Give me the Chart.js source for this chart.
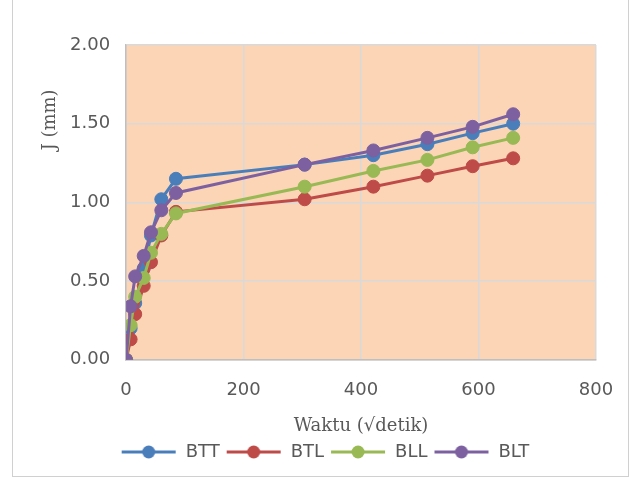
<!DOCTYPE html>
<html>
<head>
<meta charset="utf-8">
<script src="https://cdn.jsdelivr.net/npm/chart.js@4/dist/chart.umd.min.js"></script>
<style>
  html, body { margin: 0; padding: 0; background: #ffffff; }
  #wrap { position: relative; width: 640px; height: 486px; }
  #frame { position: absolute; left: 12px; top: -2px; width: 617px; height: 479px; border: 1px solid #D0D0D0; box-sizing: border-box; pointer-events: none; }
  canvas { position: absolute; left: 0; top: 0; }
</style>
</head>
<body>
<div id="wrap">
  <canvas id="c" width="640" height="486"></canvas>
  <div id="frame"></div>
</div>
<script>
// Time axis (√detik) shared by all series
const waktu = [0, 7.7, 15.5, 30, 42.4, 60, 84.9, 304, 421, 513, 590, 659];
// Series values (mm)
const BTT = [0, 0.20, 0.36, 0.58, 0.79, 1.02, 1.15, 1.24, 1.30, 1.37, 1.44, 1.50];
const BTL = [0, 0.13, 0.29, 0.47, 0.62, 0.79, 0.94, 1.02, 1.10, 1.17, 1.23, 1.28];
const BLL = [0, 0.22, 0.40, 0.52, 0.68, 0.80, 0.93, 1.10, 1.20, 1.27, 1.35, 1.41];
const BLT = [0, 0.34, 0.53, 0.66, 0.81, 0.95, 1.06, 1.24, 1.33, 1.41, 1.48, 1.56];
const seriesNames = ['BTT', 'BTL', 'BLL', 'BLT'];
const seriesValues = [BTT, BTL, BLL, BLT];
const seriesColors = ['#4A7EBB', '#BE4B48', '#98B954', '#7D60A0'];
const xTitle = 'Waktu (\u221Adetik)';
const yTitle = 'J (mm)';

function legendIcon(color) {
  const cv = document.createElement('canvas');
  cv.width = 56; cv.height = 16;
  const g = cv.getContext('2d');
  g.strokeStyle = color; g.lineWidth = 3;
  g.beginPath(); g.moveTo(1, 8); g.lineTo(55, 8); g.stroke();
  g.fillStyle = color;
  g.beginPath(); g.arc(28, 8, 6.5, 0, Math.PI * 2); g.fill();
  return cv;
}
const legendIcons = seriesColors.map(legendIcon);

const datasets = seriesNames.map((name, i) => ({
  label: name,
  data: waktu.map((x, k) => ({ x: x, y: seriesValues[i][k] })),
  borderColor: seriesColors[i],
  backgroundColor: seriesColors[i],
  pointBackgroundColor: seriesColors[i],
  pointBorderColor: seriesColors[i],
  pointStyle: 'circle',
  pointRadius: 6.5,
  pointBorderWidth: 1,
  borderWidth: 3,
  showLine: true,
  order: seriesNames.length - i
}));

const plotBg = {
  id: 'plotBg',
  beforeDraw(chart) {
    const { ctx, chartArea: a } = chart;
    ctx.save();
    ctx.fillStyle = '#FBD5B5';
    ctx.fillRect(a.left, a.top, a.right - a.left, a.bottom - a.top);
    ctx.restore();
  },
  afterDraw(chart) {
    const { ctx } = chart;
    ctx.save();
    ctx.translate(50, 120);
    ctx.rotate(-Math.PI / 2);
    ctx.font = '18px "DejaVu Serif"';
    ctx.fillStyle = '#595959';
    ctx.textAlign = 'center';
    ctx.textBaseline = 'middle';
    ctx.fillText(yTitle, 0, 0);
    ctx.restore();
  }
};

new Chart(document.getElementById('c'), {
  type: 'scatter',
  data: { datasets: datasets },
  plugins: [plotBg],
  options: {
    responsive: false,
    animation: false,
    layout: { padding: { left: 54, right: 44, top: 45, bottom: 15 } },
    plugins: {
      tooltip: { enabled: false },
      legend: {
        position: 'bottom',
        labels: {
          usePointStyle: true,
          pointStyleWidth: 56,
          boxHeight: 16,
          padding: 6,
          color: '#595959',
          font: { family: 'DejaVu Sans', size: 18 },
          generateLabels(chart) {
            return chart.data.datasets.map((ds, i) => ({
              text: ds.label,
              fillStyle: ds.borderColor,
              strokeStyle: ds.borderColor,
              lineWidth: 0,
              pointStyle: legendIcons[i],
              hidden: false,
              datasetIndex: i,
              fontColor: '#595959'
            }));
          }
        }
      }
    },
    scales: {
      x: {
        type: 'linear',
        min: 0, max: 800,
        ticks: { stepSize: 200, padding: 20, color: '#595959', font: { family: 'DejaVu Sans', size: 18 } },
        grid: { color: '#D9D9D9', lineWidth: 1.5, drawTicks: false },
        border: { color: '#BFBFBF', width: 1.5 },
        title: { display: true, text: xTitle, color: '#595959', font: { family: 'DejaVu Serif', size: 18 }, padding: { top: -6, bottom: 0 } }
      },
      y: {
        type: 'linear',
        min: 0, max: 2,
        ticks: { stepSize: 0.5, padding: 16, color: '#595959', font: { family: 'DejaVu Sans', size: 18 }, callback: v => Number(v).toFixed(2) },
        grid: { color: '#D9D9D9', lineWidth: 1.5, drawTicks: false },
        border: { color: '#BFBFBF', width: 1.5 }
      }
    }
  }
});
</script>
</body>
</html>
